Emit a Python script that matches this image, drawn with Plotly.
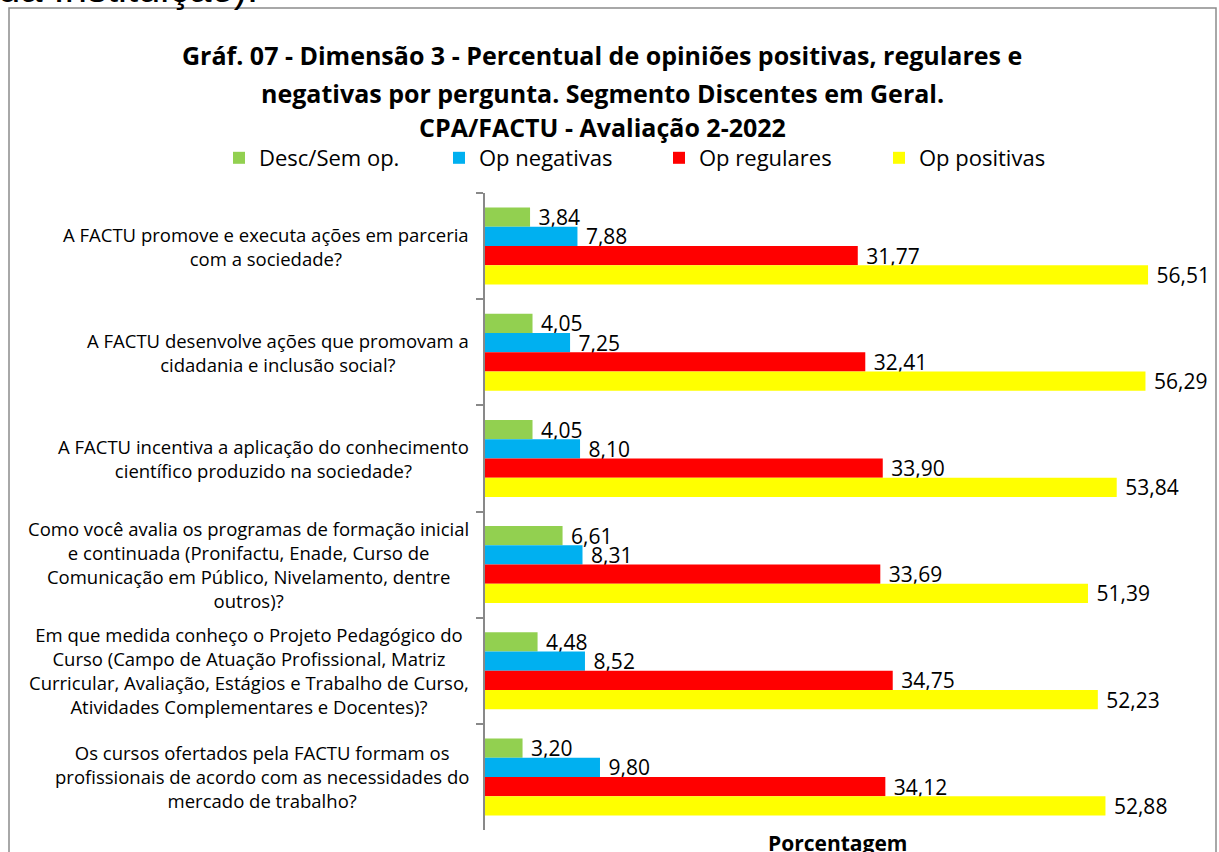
import plotly.graph_objects as go

categories = [
    "A FACTU promove e executa ações em parceria<br>com a sociedade?",
    "A FACTU desenvolve ações que promovam a<br>cidadania e inclusão social?",
    "A FACTU incentiva a aplicação do conhecimento<br>científico produzido na sociedade?",
    "Como você avalia os programas de formação inicial<br>e continuada (Pronifactu, Enade, Curso de<br>Comunicação em Público, Nivelamento, dentre<br>outros)?",
    "Em que medida conheço o Projeto Pedagógico do<br>Curso (Campo de Atuação Profissional, Matriz<br>Curricular, Avaliação, Estágios e Trabalho de Curso,<br>Atividades Complementares e Docentes)?",
    "Os cursos ofertados pela FACTU formam os<br>profissionais de acordo com as necessidades do<br>mercado de trabalho?",
]
cat_ids = ["Q1", "Q2", "Q3", "Q4", "Q5", "Q6"]

desc_sem_op = [3.84, 4.05, 4.05, 6.61, 4.48, 3.20]
op_negativas = [7.88, 7.25, 8.10, 8.31, 8.52, 9.80]
op_regulares = [31.77, 32.41, 33.90, 33.69, 34.75, 34.12]
op_positivas = [56.51, 56.29, 53.84, 51.39, 52.23, 52.88]

series = [
    ("Desc/Sem op.", desc_sem_op, "#92D050"),
    ("Op negativas", op_negativas, "#00B0F0"),
    ("Op regulares", op_regulares, "#FF0000"),
    ("Op positivas", op_positivas, "#FFFF00"),
]

title_lines = [
    "Gráf. 07 - Dimensão 3 - Percentual de opiniões positivas, regulares e",
    "negativas por pergunta. Segmento Discentes em Geral.",
    "CPA/FACTU - Avaliação 2-2022",
]

W, H = 1219, 852
L, R, T, B = 485, 30, 193, 22
PW, PH = W - L - R, H - T - B


def px_x(x):
    return (x - L) / PW


def px_y(y):
    return (H - B - y) / PH


FONT = "Open Sans"

fig = go.Figure()
for name, vals, color in series:
    fig.add_trace(go.Bar(
        name=name, y=cat_ids, x=vals, orientation="h",
        marker=dict(color=color, line=dict(width=0)),
        texttemplate="\u00a0%{x:.2f}", textposition="outside", constraintext="none",
        textfont=dict(family=FONT, size=21, color="black"),
        cliponaxis=False,
    ))

annotations = []
for cid, label in zip(cat_ids, categories):
    annotations.append(dict(
        x=0, xref="paper", y=cid, yref="y", text=label, showarrow=False,
        xanchor="right", yanchor="middle", align="center", xshift=-14,
        font=dict(family=FONT, size=18.5, color="black"),
    ))

title_y = [55, 93, 127]
for txt, yy in zip(title_lines, title_y):
    annotations.append(dict(
        x=px_x(602), xref="paper", y=px_y(yy), yref="paper", text="<b>" + txt + "</b>",
        showarrow=False, xanchor="center", yanchor="middle",
        font=dict(family=FONT, size=25, color="black"),
    ))

annotations.append(dict(
    x=px_x(837), xref="paper", y=px_y(843), yref="paper", text="<b>Porcentagem</b>",
    showarrow=False, xanchor="center", yanchor="middle",
    font=dict(family=FONT, size=21, color="black"),
))

annotations.append(dict(
    x=px_x(-4), xref="paper", y=px_y(12), yref="paper", text="da Instituição).",
    showarrow=False, xanchor="left", yanchor="bottom",
    font=dict(family="Liberation Sans", size=40, color="black"),
))

fig.update_layout(
    width=W, height=H,
    margin=dict(l=L, r=R, t=T, b=B),
    paper_bgcolor="white", plot_bgcolor="white",
    barmode="group", bargap=0.275, bargroupgap=0,
    separators=",.",
    showlegend=True,
    legend=dict(
        orientation="h", x=px_x(219), xanchor="left", y=px_y(158), yanchor="middle",
        font=dict(family=FONT, size=22, color="black"),
        entrywidth=175, itemwidth=30, traceorder="normal",
    ),
    xaxis=dict(range=[0, 60], showgrid=False, showticklabels=False, zeroline=False,
               showline=False, ticks=""),
    yaxis=dict(autorange="reversed", showticklabels=False, showgrid=False,
               showline=True, linecolor="#898989", linewidth=1.5,
               ticks="outside", tickson="boundaries", ticklen=7, tickcolor="#898989",
               tickwidth=1.5),
    annotations=annotations,
    shapes=[dict(type="rect", xref="paper", yref="paper",
                 x0=px_x(9), x1=px_x(1216), y0=px_y(900), y1=px_y(8),
                 line=dict(color="#8c8c8c", width=1.5), fillcolor="rgba(0,0,0,0)",
                 layer="below")],
)

fig.write_html("out.html", config={"displayModeBar": False},
               post_script="document.body.style.margin='0px';")
